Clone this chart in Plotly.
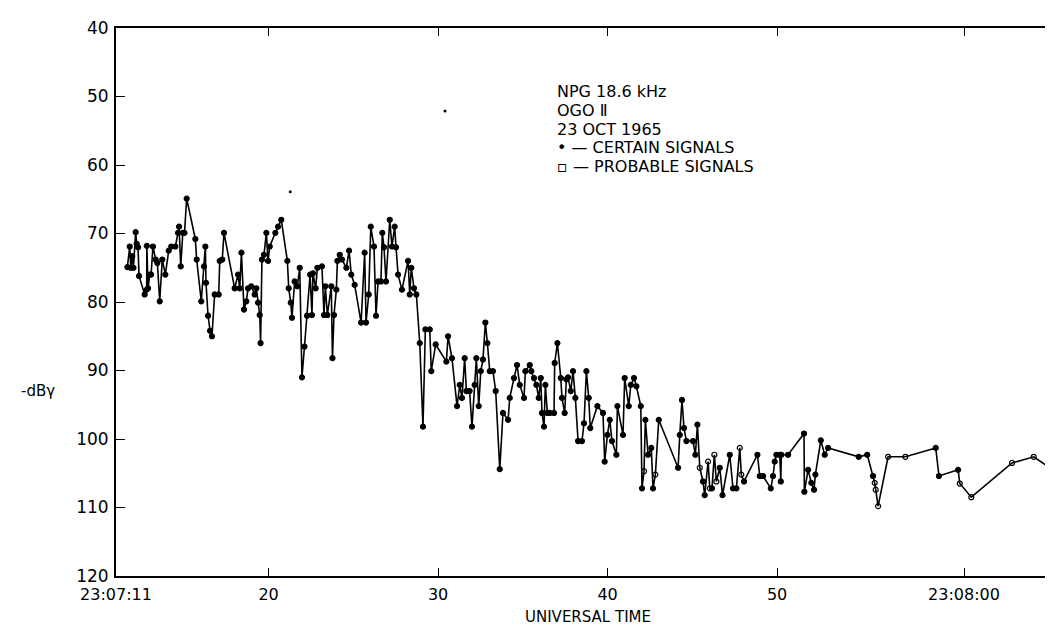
import plotly.graph_objects as go

# time in seconds after 23:07:00 UT
t_sec = [11.67, 11.81, 11.87, 11.96, 12.03, 12.16, 12.22, 12.30, 12.36, 12.69, 12.81, 12.82, 12.89, 12.99,
         13.07, 13.18, 13.34, 13.44, 13.58, 13.73, 13.91, 14.11, 14.26, 14.50, 14.66, 14.72, 14.82, 14.94,
         15.04, 15.17, 15.68, 15.76, 16.03, 16.19, 16.27, 16.31, 16.43, 16.55, 16.66, 16.82, 17.06, 17.12,
         17.27, 17.37, 18.00, 18.20, 18.30, 18.40, 18.55, 18.69, 18.79, 18.98, 19.18, 19.28, 19.38, 19.48,
         19.53, 19.61, 19.73, 19.87, 19.97, 20.07, 20.40, 20.56, 20.75, 21.11, 21.19, 21.31, 21.38, 21.54,
         21.70, 21.84, 21.97, 22.12, 22.27, 22.45, 22.56, 22.62, 22.78, 22.88, 23.15, 23.27, 23.35, 23.47,
         23.70, 23.77, 23.86, 24.00, 24.06, 24.20, 24.33, 24.59, 24.75, 24.88, 25.08, 25.46, 25.67, 25.75,
         25.91, 26.03, 26.22, 26.34, 26.46, 26.63, 26.71, 26.81, 26.93, 27.15, 27.28, 27.44, 27.52, 27.64,
         27.87, 28.23, 28.33, 28.42, 28.58, 28.72, 28.92, 29.11, 29.25, 29.51, 29.60, 29.86, 30.49, 30.59,
         30.82, 31.12, 31.28, 31.41, 31.57, 31.67, 31.86, 32.00, 32.16, 32.26, 32.40, 32.52, 32.65, 32.79,
         32.91, 33.05, 33.24, 33.40, 33.64, 33.83, 34.13, 34.23, 34.48, 34.66, 34.82, 35.07, 35.15, 35.41,
         35.50, 35.66, 35.80, 35.94, 36.06, 36.13, 36.25, 36.33, 36.45, 36.59, 36.84, 36.88, 37.04, 37.24,
         37.31, 37.47, 37.57, 37.67, 37.83, 37.96, 38.10, 38.26, 38.49, 38.61, 38.75, 38.89, 38.98, 39.40,
         39.73, 39.83, 39.99, 40.13, 40.26, 40.52, 40.58, 40.91, 41.01, 41.25, 41.37, 41.56, 41.70, 41.96,
         42.03, 42.15, 42.23, 42.39, 42.58, 42.68, 42.82, 43.02, 44.16, 44.26, 44.39, 44.51, 44.65, 45.04,
         45.18, 45.30, 45.44, 45.63, 45.73, 45.93, 46.03, 46.16, 46.30, 46.42, 46.62, 46.78, 47.21, 47.40,
         47.60, 47.80, 47.89, 48.05, 48.84, 48.98, 49.17, 49.63, 49.76, 49.86, 49.96, 50.16, 50.22, 50.25,
         50.65, 51.59, 51.61, 51.83, 52.02, 52.18, 52.26, 52.58, 52.81, 53.01, 54.82, 55.32, 55.66, 55.76,
         55.82, 55.96, 56.55, 57.57, 59.36, 59.55, 60.68, 60.78, 61.46, 63.86, 65.14, 66.28, 66.62, 66.65]

db_gamma = [74.9, 71.9, 75.0, 73.3, 75.0, 69.8, 71.5, 72.0, 76.2, 78.9, 78.2, 71.8, 78.0, 76.0,
            76.0, 71.9, 73.8, 74.3, 79.9, 73.8, 76.0, 72.5, 71.9, 71.9, 69.9, 69.0, 74.8, 69.9,
            69.9, 64.9, 70.8, 73.8, 79.9, 74.8, 71.9, 77.2, 82.0, 84.2, 85.0, 78.9, 78.9, 74.0,
            73.8, 69.9, 78.0, 76.0, 78.0, 72.8, 81.1, 79.9, 78.0, 77.7, 78.9, 78.0, 80.1, 81.9,
            86.0, 73.8, 73.1, 69.9, 74.0, 71.9, 69.9, 69.0, 68.0, 74.0, 78.0, 80.1, 82.3, 77.0,
            77.7, 75.0, 91.0, 86.5, 82.0, 76.0, 81.9, 75.8, 78.0, 75.0, 74.8, 81.9, 77.7, 81.9,
            77.7, 88.2, 81.9, 78.2, 74.0, 73.1, 73.8, 75.0, 72.5, 76.0, 77.5, 83.0, 72.8, 83.0,
            78.9, 69.0, 71.9, 82.0, 77.0, 77.0, 69.9, 72.0, 77.0, 68.0, 71.9, 69.0, 72.0, 76.0,
            78.2, 74.0, 78.9, 75.0, 78.0, 78.9, 86.0, 98.2, 84.0, 84.0, 90.1, 86.2, 88.7, 85.0,
            88.2, 95.2, 92.1, 94.0, 88.2, 93.0, 93.0, 98.2, 92.1, 88.2, 95.2, 90.1, 88.4, 83.0,
            86.0, 90.1, 90.1, 93.0, 104.4, 96.2, 97.2, 94.0, 91.1, 89.2, 92.1, 94.0, 90.1, 89.2,
            90.1, 91.1, 92.1, 94.0, 91.1, 96.2, 98.2, 92.1, 96.2, 96.2, 96.2, 88.9, 86.0, 91.1,
            94.0, 96.2, 91.3, 91.0, 93.0, 90.1, 94.0, 100.3, 100.3, 97.7, 90.1, 94.0, 98.4, 95.2,
            96.2, 103.3, 99.4, 97.2, 100.3, 102.3, 95.2, 99.4, 91.1, 95.2, 92.1, 91.1, 92.3, 95.2,
            107.2, 104.7, 97.2, 102.3, 101.3, 107.2, 105.2, 97.2, 104.2, 99.4, 94.3, 98.4, 100.3, 100.3,
            102.3, 97.9, 104.2, 106.2, 108.2, 103.3, 107.2, 107.2, 102.3, 106.2, 104.2, 108.2, 102.3, 107.2,
            107.2, 101.3, 105.2, 106.2, 102.3, 105.4, 105.4, 107.2, 105.4, 103.3, 102.3, 102.3, 106.2, 102.3,
            102.3, 99.2, 107.7, 104.5, 106.4, 107.4, 105.2, 100.2, 102.3, 101.3, 102.6, 102.3, 105.4, 106.4,
            107.4, 109.8, 102.6, 102.6, 101.3, 105.4, 104.5, 106.5, 108.5, 103.5, 102.6, 104.5, 106.5, 107.6]

# C = certain signal, P = probable signal
kind = (["C"] * 197 + ["P", "C", "C", "C", "C", "P", "C", "C", "C", "C", "C", "C", "C", "C", "C",
        "P", "C", "C", "P", "P", "C", "P", "P", "C", "C", "C", "C", "C", "P", "P"]
        + ["C"] * 24 + ["P", "P", "P", "P", "P", "C", "C", "C"] + ["P"] * 10)

# isolated marks
iso_t = [21.28, 30.41]
iso_db = [63.9, 52.1]

tick_vals = [11, 20, 30, 40, 50, 61.03]
tick_text = ["23:07:11", "20", "30", "40", "50", "23:08:00"]
y_ticks = [40, 50, 60, 70, 80, 90, 100, 110, 120]

n = min(len(t_sec), len(db_gamma))
kind = (kind + ["P"] * n)[:n]
symbols = ["circle" if k == "C" else "circle-open" for k in kind]

FONT = "DejaVu Sans"
fig = go.Figure()
fig.add_trace(go.Scatter(
    x=t_sec[:n], y=db_gamma[:n], mode="lines+markers",
    line=dict(color="black", width=1.6),
    marker=dict(symbol=symbols, size=5, color="black", line=dict(color="black", width=1.2)),
    showlegend=False, hoverinfo="skip", cliponaxis=True))
fig.add_trace(go.Scatter(
    x=iso_t, y=iso_db, mode="markers",
    marker=dict(symbol="circle", size=3, color="black"),
    showlegend=False, hoverinfo="skip"))

fig.update_xaxes(
    range=[11, 66.75], tickmode="array", tickvals=tick_vals, ticktext=tick_text,
    ticks="inside", ticklen=8, tickwidth=1.2, tickcolor="black",
    showline=True, linecolor="black", linewidth=2, mirror="ticks",
    showgrid=False, zeroline=False, automargin=False, ticklabelstandoff=3,
    tickfont=dict(family=FONT, size=16, color="black"))
fig.update_yaxes(
    range=[120, 40], tickmode="array", tickvals=y_ticks,
    ticks="inside", ticklen=9, tickwidth=1.2, tickcolor="black",
    showline=True, linecolor="black", linewidth=2, mirror="ticks",
    showgrid=False, zeroline=False, ticklabelstandoff=2, automargin=False,
    tickfont=dict(family=FONT, size=17, color="black"))

W, H = 1053, 639
L, R, T, B = 108, 0, 20, 71
pw, ph = W - L - R, H - T - B

def px(xp):
    return (xp - L) / pw

def py(yp):
    return (H - B - yp) / ph

legend_lines = ["NPG 18.6 kHz", "OGO Ⅱ", "23 OCT 1965", "• — CERTAIN SIGNALS", "▫ — PROBABLE SIGNALS"]
for i, txt in enumerate(legend_lines):
    fig.add_annotation(x=px(547), y=py(84 + i * 18.6), xref="paper", yref="paper",
                       text=txt, showarrow=False, xanchor="left", yanchor="middle",
                       font=dict(family=FONT, size=16, color="black"))

fig.add_annotation(x=px(30), y=py(383), xref="paper", yref="paper", text="-dBγ",
                   showarrow=False, xanchor="center", yanchor="middle",
                   font=dict(family=FONT, size=15, color="black"))
fig.add_annotation(x=px(580), y=py(609), xref="paper", yref="paper", text="UNIVERSAL TIME",
                   showarrow=False, xanchor="center", yanchor="middle",
                   font=dict(family=FONT, size=15, color="black"))

fig.update_layout(width=W, height=H, margin=dict(l=L, r=R, t=T, b=B, autoexpand=False),
                  paper_bgcolor="white", plot_bgcolor="white")
fig.write_html("out.html")
